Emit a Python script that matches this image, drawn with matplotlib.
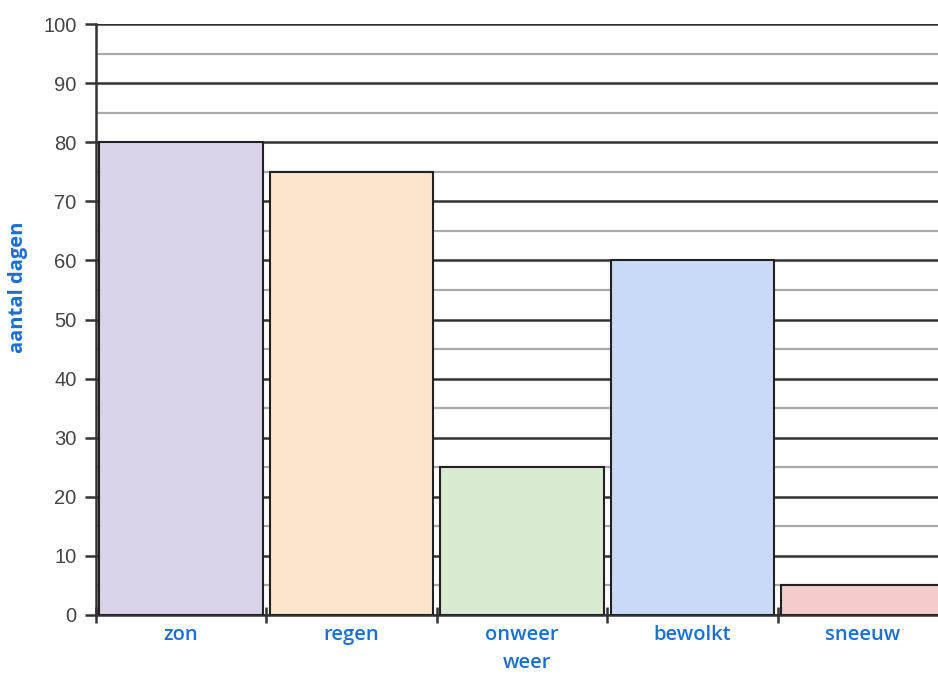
import matplotlib
matplotlib.use('Agg')
from matplotlib import pyplot as plt
from matplotlib.ticker import MultipleLocator, FixedLocator
import numpy as np

categories = ['zon', 'regen', 'onweer', 'bewolkt', 'sneeuw']
days = [80, 75, 25, 60, 5]
colors = ['#d9d2e9', '#fce5cd', '#d9ead3', '#c9daf8', '#f4cccc']

blue = '#1a6fd4'

fig = plt.figure(figsize=(9.38, 6.75), dpi=100)
# axes run slightly past the right edge, like the cropped original
ax = fig.add_axes([96 / 938, 60 / 675, 852 / 938, 591 / 675])

x = np.arange(len(categories))
ax.bar(x, days, width=0.96, color=colors, edgecolor='#222222', linewidth=1.5, zorder=3)

ax.set_xlim(-0.5, len(categories) - 0.5)
ax.set_ylim(0, 100)

ax.yaxis.set_major_locator(MultipleLocator(10))
ax.yaxis.set_minor_locator(MultipleLocator(5))
ax.grid(which='major', axis='y', color='#333333', linewidth=1.8, zorder=0)
ax.grid(which='minor', axis='y', color='#aaaaaa', linewidth=1.6, zorder=0)

for side in ['top', 'right']:
    ax.spines[side].set_visible(False)
ax.spines['left'].set_linewidth(1.8)
ax.spines['left'].set_color('#333333')
ax.spines['bottom'].set_linewidth(1.8)
ax.spines['bottom'].set_color('#333333')

ax.tick_params(axis='y', which='major', length=8, width=1.8, color='#333333',
               labelsize=14.5, labelcolor='#444444', pad=6)
ax.tick_params(axis='y', which='minor', length=0)
for lab in ax.get_yticklabels():
    lab.set_family('Liberation Sans')

# category ticks sit between the bars, labels in the middle
ax.xaxis.set_major_locator(FixedLocator(np.arange(len(categories) + 1) - 0.5))
ax.xaxis.set_minor_locator(FixedLocator(x))
ax.set_xticklabels([''] * (len(categories) + 1))
ax.set_xticklabels(categories, minor=True)
ax.tick_params(axis='x', which='major', direction='inout', length=12, width=1.8, color='#333333')
ax.tick_params(axis='x', which='minor', length=0, labelsize=14.5, labelcolor=blue, pad=7)
for lab in ax.get_xticklabels(minor=True):
    lab.set_family('Open Sans')
    lab.set_fontweight('semibold')

ax.set_xlabel('weer', fontsize=14.5, color=blue, family='Open Sans', fontweight='semibold')
ax.xaxis.set_label_coords(0.506, -0.064)
ax.set_ylabel('aantal dagen', fontsize=14.5, color=blue, family='Open Sans',
              fontweight='bold')
ax.yaxis.set_label_coords(-0.080, 0.555)

plt.savefig('out.png', dpi=100)
